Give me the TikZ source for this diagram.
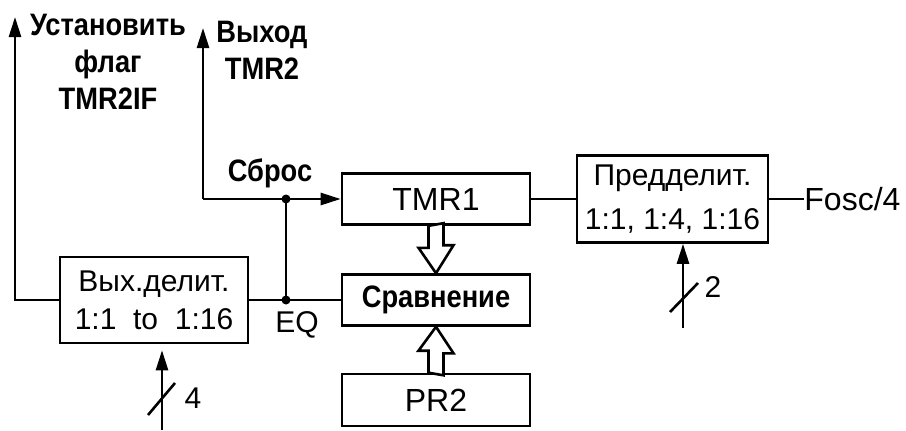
\documentclass[tikz,border=0pt]{standalone}
\usepackage{fontspec}
\setmainfont{Liberation Sans}
\newfontfamily\lblfont[FakeStretch=0.88]{Liberation Sans}
\usetikzlibrary{arrows.meta}

\begin{document}
\begin{tikzpicture}[x=0.5pt, y=-0.5pt,
    font=\fontsize{15}{19}\selectfont,
    blk/.style={draw, line width=1.3pt, minimum width=94pt, align=center, inner sep=0pt},
    lbl/.style={font=\lblfont\fontsize{15.5}{18.5}\selectfont\bfseries, align=center},
    wire/.style={line width=1.3pt},
    sig/.style={wire, -{Triangle[length=10pt, width=6pt]}},
    hollow/.style={line width=1.3pt, fill=white, line join=miter},
    jdot/.style={circle, fill, inner sep=0pt, minimum size=4.5pt}]
    \useasboundingbox (0,0) rectangle (906,430);

    % blocks
    \node[blk, minimum height=25.5pt, font=\fontsize{16}{19}\selectfont] (tmr) at (436,199) {TMR1};
    \node[blk, lbl, minimum height=25.5pt] (cmp) at (436,300) {Сравнение};
    \node[blk, minimum height=26pt, font=\fontsize{16}{19}\selectfont] (prr) at (436,400) {PR2};
    \node[blk, minimum width=95.5pt, minimum height=43.5pt, font=\fontsize{15}{22}\selectfont] (pre) at (672.5,199) {Предделит.\\1:1, 1:4, 1:16};
    \node[blk, minimum height=43pt] (div) at (154,300) {Вых.делит.\\1:1\ \ to\ \ 1:16};

    % labels
    \node[lbl] (flagl) at (108,62) {Установить\\флаг\\TMR2IF};
    \node[lbl] (outl) at (262,50) {Выход\\TMR2};
    \node[lbl] (rstl) at (270,173) {Сброс};
    \node (eql) at (297,325) {EQ};
    \node[anchor=west, inner sep=0pt, font=\fontsize{16}{19}\selectfont] (fosc) at (804,199) {Fosc/4};
    \node (n4) at (193,398) {4};
    \node (n2) at (713,287) {2};

    % connection points
    \coordinate (eq) at (286,300);
    \coordinate (rst) at (286,199);
    \coordinate (rstc) at (203,199);
    \coordinate (outtop) at (203,28);
    \coordinate (flagc) at (15,300);
    \coordinate (flagtop) at (15,17);
    \coordinate (in4) at (162,430);
    \coordinate (in2) at (683,328);

    \draw[wire] (div.east) -- (cmp.west);
    \draw[wire] (eq) -- (rst);
    \draw[sig] (rstc) -- (tmr.west);
    \draw[sig] (rstc) -- (outtop);
    \draw[sig] (div.west) -- (flagc) -- (flagtop);
    \draw[wire] (tmr.east) -- (pre.west);
    \draw[line width=0.8pt] (pre.east) -- (fosc.west);
    \draw[sig, shorten >=3pt] (in4) -- (in4 |- div.south);
    \draw[sig] (in2) -- (in2 |- pre.south);
    \draw[wire] (148,415) -- (175,383);
    \draw[wire] (670,312) -- (698,283);
    \node[jdot] (eqd) at (eq) {};
    \node[jdot] (rstd) at (rst) {};

    % hollow bus arrows
    \draw[hollow] (tmr.south) ++(-7.5,0) -- ++(0,22) -- ++(-10,0) -- (cmp.north)
        -- ++(17.5,-28) -- ++(-10,0) -- ++(0,-22) -- cycle;
    \draw[hollow] (prr.north) ++(-7.5,0) -- ++(0,-22) -- ++(-10,0) -- (cmp.south)
        -- ++(17.5,26.5) -- ++(-10,0) -- ++(0,22) -- cycle;
\end{tikzpicture}
\end{document}
